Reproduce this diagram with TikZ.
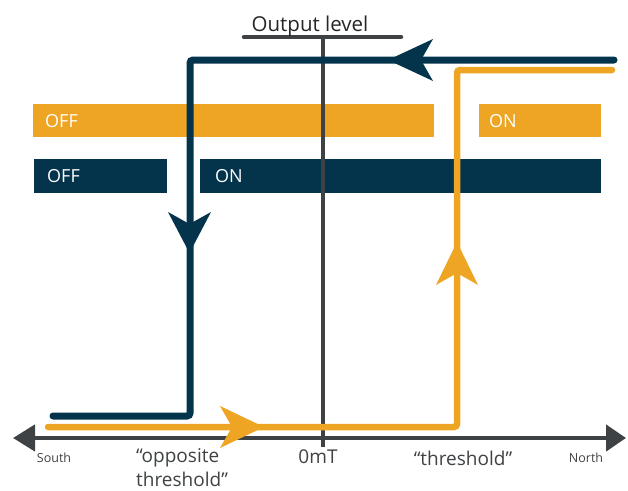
\documentclass[tikz,border=0pt]{standalone}
\usepackage{fontspec}
\setmainfont{Open Sans}
\usetikzlibrary{arrows.meta}
\definecolor{navy}{HTML}{03344B}
\definecolor{amber}{HTML}{EDA523}
\definecolor{axisgray}{HTML}{3F4244}
\begin{document}
\begin{tikzpicture}[x=1pt,y=-1pt,
  barlabel/.style={inner sep=0pt,anchor=base west,text=white,font=\fontsize{18}{20}\selectfont},
  axlabel/.style={inner sep=0pt,anchor=base,text=axisgray,font=\fontsize{19}{22}\selectfont},
  smalllabel/.style={inner sep=0pt,anchor=base,text=axisgray,font=\fontsize{12.5}{14}\selectfont},
  navyline/.style={draw=navy,line width=7pt,line cap=round,rounded corners=3pt},
  amberline/.style={draw=amber,line width=6.5pt,line cap=round,rounded corners=3pt},
  grayline/.style={draw=axisgray,line width=4.5pt}]
\useasboundingbox (0,0) rectangle (628,490);
% state bars
\fill[amber] (33,104) rectangle (434,137);
\fill[amber] (479,104) rectangle (601,137);
\fill[navy] (34,159) rectangle (167,193);
\fill[navy] (200,159) rectangle (601,193);
\node[barlabel] (offA) at (45,127.5) {OFF};
\node[barlabel] (onA) at (489,127.5) {ON};
\node[barlabel] (offB) at (47,182.5) {OFF};
\node[barlabel] (onB) at (215,182.5) {ON};
% axis
\coordinate (axL) at (13,438);
\coordinate (axR) at (626,438);
\draw[grayline,{Triangle[length=22pt,width=26pt]}-{Triangle[length=20pt,width=26pt]}] (axL) -- (axR);
% output level line
\coordinate (topL) at (244,37);
\coordinate (topR) at (401,37);
\coordinate (vTop) at (323,37);
\coordinate (vBot) at (323,447);
\draw[grayline,line cap=round] (topL) -- (topR);
\draw[grayline] (vTop) -- (vBot);
\node[inner sep=0pt,anchor=base,text=black!85,font=\fontsize{20.5}{24}\selectfont] (olev) at (310,31) {Output level};
% hysteresis paths
\coordinate (nA) at (614,60);
\coordinate (nB) at (190,60);
\coordinate (nC) at (190,416);
\coordinate (nD) at (53,416);
\draw[navyline] (nA) -- (nB) -- (nC) -- (nD);
\coordinate (oA) at (48,427);
\coordinate (oB) at (457,427);
\coordinate (oC) at (457,70);
\coordinate (oD) at (612,70);
\draw[amberline] (oA) -- (oB) -- (oC) -- (oD);
% arrowheads
\fill[navy] (388,60) -- (433,39) -- (421,60) -- (433,81) -- cycle;
\fill[navy] (189.5,253) -- (168,212) -- (189.5,224) -- (211,212) -- cycle;
\fill[amber] (457,242) -- (436,285) -- (457,273) -- (478,285) -- cycle;
\fill[amber] (264,427) -- (220,406) -- (232,427) -- (220,448) -- cycle;
% axis labels
\node[smalllabel] (south) at (54,462) {South};
\node[smalllabel] (north) at (586,462) {North};
\node[axlabel] (zero) at (318,463) {0mT};
\node[axlabel,anchor=base west] (oppA) at (136,462) {“opposite};
\node[axlabel,anchor=base west] (oppB) at (136,486) {threshold”};
\node[axlabel] (thr) at (463,465) {“threshold”};
\end{tikzpicture}
\end{document}
